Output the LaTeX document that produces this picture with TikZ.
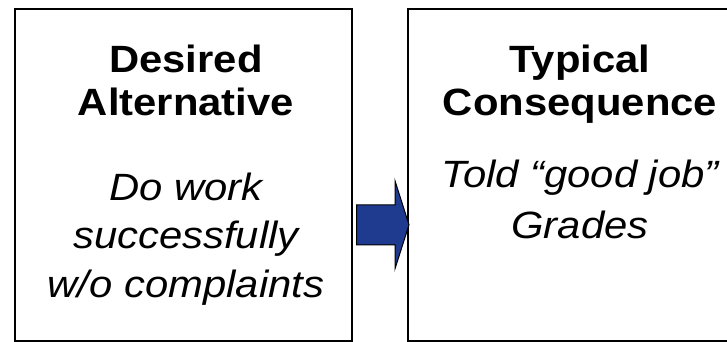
\documentclass[tikz,border=0pt]{standalone}
\usepackage{fontspec}
\setmainfont{Liberation Sans}[FakeStretch=1.1]
\usepackage{tikz}
\usetikzlibrary{calc}
\usetikzlibrary{positioning}
\definecolor{arrowblue}{RGB}{31,59,143}

\begin{document}
\begin{tikzpicture}[
x=1pt, y=-1pt,
MyBoxes/.style={draw=black,line width=1.6pt,anchor=north west,inner sep=0pt},
MyTitles/.style={font=\fontsize{38}{43}\selectfont\bfseries,align=center,anchor=base},
MyTexts/.style={font=\fontsize{38}{48.5}\selectfont\itshape,align=center,anchor=base},
MyArrow/.style={draw=black,fill=arrowblue,line width=1pt,line join=miter}
]

\useasboundingbox (0,0) rectangle (727,341);
\clip (0,0) rectangle (727,341);

% the two boxes, the second one runs off to the right
\node[MyBoxes, minimum width=337pt, minimum height=332pt] (alt) at (14,8) {};
\node[MyBoxes, minimum width=346pt, minimum height=332pt] (cons) at (407,8) {};

% base anchor sits on the last line
\node[MyTitles] (altTitle) at (186,115) {Desired\\Alternative};
\node[MyTexts] (altText) at (186,297) {Do work\\successfully\\w/o complaints};

\node[MyTitles] (consTitle) at (580,115) {Typical\\Consequence};
\node[MyTexts, font=\fontsize{38}{51}\selectfont\itshape] (consText) at (580,238) {Told “good job”\\Grades};

% block arrow between the boxes
\coordinate (from) at ([xshift=4pt,yshift=-50pt]alt.east);
\coordinate (to) at ([xshift=2pt,yshift=-50pt]cons.west);

\draw[MyArrow] ($(from)+(0,-20)$) -- ($(to)+(-14,-20)$) -- ($(to)+(-14,-44)$)
  -- (to) -- ($(to)+(-14,44)$) -- ($(to)+(-14,20)$) -- ($(from)+(0,20)$) -- cycle;

\end{tikzpicture}
\end{document}
